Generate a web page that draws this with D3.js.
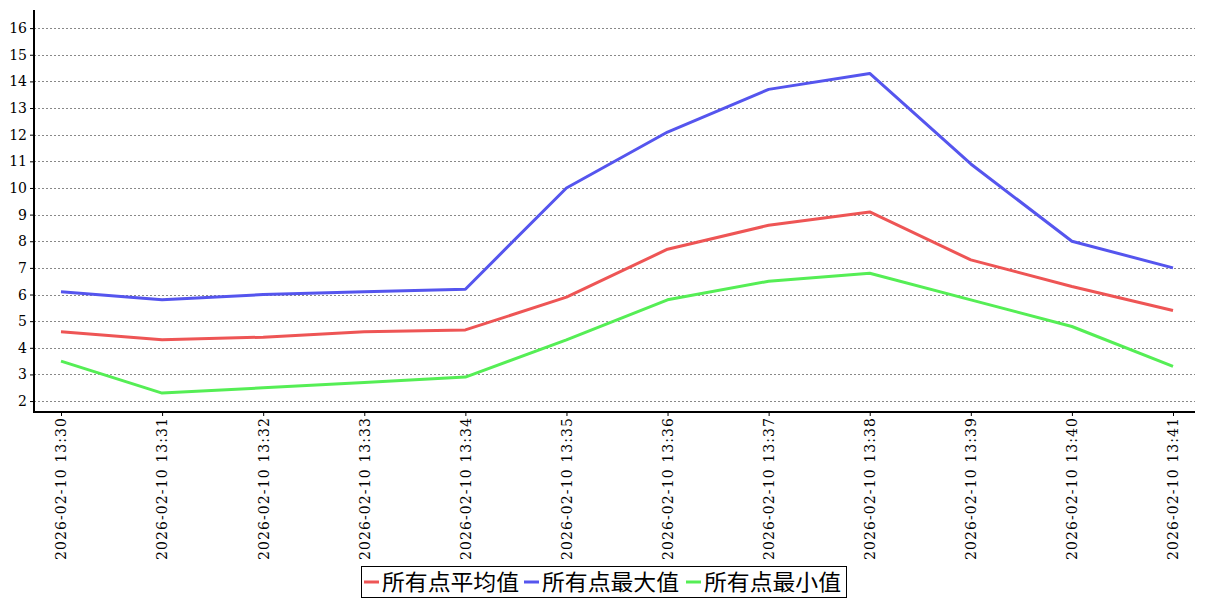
<!DOCTYPE html>
<html><head><meta charset="utf-8">
<script src="https://cdn.jsdelivr.net/npm/d3@7"></script>
<style>body{margin:0;background:#fff}svg{display:block}</style>
</head><body>
<svg id="c" width="1207" height="600"></svg>
<script>
const categories = ["2026-02-10 13:30","2026-02-10 13:31","2026-02-10 13:32","2026-02-10 13:33","2026-02-10 13:34","2026-02-10 13:35","2026-02-10 13:36","2026-02-10 13:37","2026-02-10 13:38","2026-02-10 13:39","2026-02-10 13:40","2026-02-10 13:41"];
const avgValues = [4.6, 4.3, 4.4, 4.6, 4.67, 5.9, 7.7, 8.6, 9.1, 7.3, 6.3, 5.4];
const maxValues = [6.1, 5.8, 6.0, 6.1, 6.2, 10.0, 12.1, 13.7, 14.3, 10.9, 8.0, 7.0];
const minValues = [3.5, 2.3, 2.5, 2.7, 2.9, 4.3, 5.8, 6.5, 6.8, 5.8, 4.8, 3.3];
const yTicks = [2,3,4,5,6,7,8,9,10,11,12,13,14,15,16];
const seriesNames = ["所有点平均值","所有点最大值","所有点最小值"];
const seriesColors = ["#ee5555","#5555ee","#55ee55"];
const series = [avgValues, maxValues, minValues];

(function(){
const svg = d3.select("#c");
const pL = 34, pR = 1195, pT = 10, pB = 412;
const x = d3.scalePoint().domain(categories).range([61, 1173]);
const y = d3.scaleLinear().domain([1.59, 16.68]).range([pB, pT]);

// grid
svg.append("g").selectAll("line").data(yTicks).join("line")
  .attr("x1", pL).attr("x2", pR)
  .attr("y1", d => Math.round(y(d)) + 0.5).attr("y2", d => Math.round(y(d)) + 0.5)
  .attr("stroke", "#888").attr("stroke-width", 1).attr("stroke-dasharray", "2,2");

// lines
const line = d3.line().x((d, i) => x(categories[i])).y(d => y(d));
series.forEach((s, k) => {
  svg.append("path").datum(s).attr("d", line).attr("fill", "none")
    .attr("stroke", seriesColors[k]).attr("stroke-width", 3).attr("stroke-linejoin", "round");
});

// y axis
const ya = svg.append("g").attr("transform", `translate(${pL},0)`)
  .call(d3.axisLeft(y).tickValues(yTicks).tickSize(4).tickSizeOuter(0).tickPadding(3).tickFormat(d3.format("d")));
ya.select(".domain").remove();
ya.selectAll("text").attr("font-family", "DejaVu Serif").attr("font-size", 14).attr("fill", "#000");
ya.selectAll(".tick line").attr("stroke", "#000");
svg.append("line").attr("x1", pL).attr("x2", pL).attr("y1", pT).attr("y2", pB + 1)
  .attr("stroke", "#000").attr("stroke-width", 2);

// x axis
const xa = svg.append("g").attr("transform", `translate(0,${pB})`)
  .call(d3.axisBottom(x).tickSize(4).tickSizeOuter(0));
xa.select(".domain").remove();
xa.selectAll(".tick line").attr("stroke", "#000");
xa.selectAll("text")
  .attr("font-family", "DejaVu Serif").attr("font-size", 14).attr("fill", "#000")
  .attr("text-anchor", "end").attr("dy", "0.35em")
  .attr("transform", "translate(0,6) rotate(-90)")
  .attr("x", 0).attr("y", 0)
  .attr("textLength", 142).attr("lengthAdjust", "spacing");
svg.append("line").attr("x1", pL - 1).attr("x2", pR).attr("y1", pB).attr("y2", pB)
  .attr("stroke", "#000").attr("stroke-width", 2);

// legend
const lg = svg.append("g");
lg.append("rect").attr("x", 361.5).attr("y", 566.5).attr("width", 485).attr("height", 31)
  .attr("fill", "#fff").attr("stroke", "#000").attr("stroke-width", 1);
const legX = [364, 524, 686];
seriesNames.forEach((n, k) => {
  lg.append("line").attr("x1", legX[k]).attr("x2", legX[k] + 15).attr("y1", 582).attr("y2", 582)
    .attr("stroke", seriesColors[k]).attr("stroke-width", 3);
  lg.append("text").attr("x", legX[k] + 18).attr("y", 590).text(n)
    .attr("font-family", "Noto Sans CJK SC").attr("font-size", 22).attr("fill", "#000")
    .attr("textLength", 137).attr("lengthAdjust", "spacingAndGlyphs");
});
})();
</script>
</body></html>
